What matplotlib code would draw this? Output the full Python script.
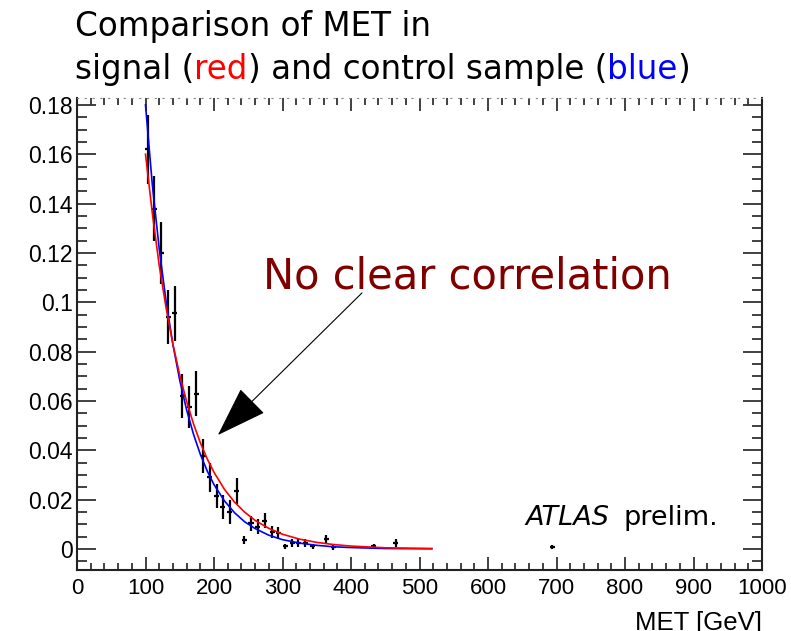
import numpy as np
import matplotlib
matplotlib.use('Agg')
import matplotlib.pyplot as plt
from matplotlib.ticker import MultipleLocator

# ── Data ─────────────────────────────────────────────────────────────────────
met_pts = [103, 113, 123, 133, 143, 154, 164, 174, 184, 194, 204, 213, 223, 233,
           244, 254, 264, 274, 285, 294, 304, 314, 323, 333, 344, 364, 374, 433,
           465, 694]
frac_pts = [0.162, 0.138, 0.120, 0.094, 0.0955, 0.062, 0.0575, 0.063, 0.0377,
            0.029, 0.0215, 0.017, 0.015, 0.0235, 0.0037, 0.0105, 0.009, 0.0115,
            0.0068, 0.0065, 0.0011, 0.0024, 0.0024, 0.0024, 0.0012, 0.004,
            0.0008, 0.0012, 0.0024, 0.0008]
frac_err = [0.014, 0.013, 0.0125, 0.011, 0.011, 0.009, 0.0085, 0.009, 0.0068,
            0.006, 0.005, 0.005, 0.0047, 0.0054, 0.0015, 0.003, 0.003, 0.003,
            0.0025, 0.0025, 0.001, 0.0015, 0.0015, 0.0015, 0.001, 0.0017, 0.001,
            0.001, 0.0015, 0.0008]
met_bin_half = 3.7

# fitted curves (signal = red, control = blue)
met_curve = [100, 110, 120, 130, 140, 150, 160, 170, 180, 190, 200, 215, 230,
             245, 260, 280, 300, 325, 350, 375, 400, 450, 518]
signal_curve = [0.160, 0.136, 0.115, 0.0978, 0.083, 0.0705, 0.0598, 0.0508,
                0.0431, 0.0366, 0.0311, 0.0243, 0.019, 0.0149, 0.0116, 0.0084,
                0.006, 0.004, 0.0027, 0.0018, 0.0012, 0.0005, 0.0002]
control_curve = [0.180, 0.1475, 0.1218, 0.1005, 0.0829, 0.0684, 0.0564, 0.0466,
                 0.0384, 0.0317, 0.0261, 0.0196, 0.0147, 0.011, 0.0083, 0.0056,
                 0.0038, 0.0024, 0.0015, 0.0009, 0.0006, 0.0002, 0.0001]

title_top = 'Comparison of MET in'
title_parts = [('signal (', 'black'), ('red', '#ff0000'),
               (') and control sample (', 'black'), ('blue', '#0000ff'),
               (')', 'black')]

W, H = 791, 631


def fx(x):
    return x / W


def fy(y):
    return 1 - y / H


plt.rcParams['font.family'] = ['Liberation Sans', 'DejaVu Sans']
TXT = ['DejaVu Sans']

fig = plt.figure(figsize=(W / 100, H / 100), dpi=100)
ax = fig.add_axes([fx(77), fy(570), fx(762) - fx(77), fy(98) - fy(570)])

ax.errorbar(met_pts, frac_pts, yerr=frac_err, xerr=met_bin_half, fmt='none',
            ecolor='black', elinewidth=1.6, capsize=0, zorder=2)
ax.plot(met_curve, control_curve, color='#0000ff', lw=1.2, zorder=3)
ax.plot(met_curve, signal_curve, color='#ff0000', lw=1.2, zorder=3)

ax.set_xlim(0, 1000)
ax.set_ylim(-0.0085, 0.1828)
ax.xaxis.set_major_locator(MultipleLocator(100))
ax.xaxis.set_minor_locator(MultipleLocator(20))
ax.yaxis.set_major_locator(MultipleLocator(0.02))
ax.yaxis.set_minor_locator(MultipleLocator(0.005))
ax.yaxis.set_major_formatter(plt.FuncFormatter(lambda v, p: f'{v:g}'))

ax.tick_params(axis='y', which='major', direction='in', length=13.5, width=1.3,
               labelsize=16.5, pad=3, right=True, color='#333333')
ax.tick_params(axis='y', which='minor', direction='in', length=7, width=1.3,
               right=True, color='#333333')
ax.tick_params(axis='x', which='major', direction='in', length=9.5, width=1.3,
               labelsize=16, pad=6, top=True, color='#333333')
ax.tick_params(axis='x', which='minor', direction='in', length=5, width=1.3,
               top=True, color='#333333')
for side in ['left', 'bottom', 'right']:
    ax.spines[side].set_linewidth(1.5)
    ax.spines[side].set_color('#222222')
ax.spines['top'].set_linestyle((0, (1, 6)))
ax.spines['top'].set_color('#888888')

# x-axis title, right aligned and cut by the lower edge like the reference
fig.text(fx(762), fy(630), 'MET [GeV]', fontsize=18.5, ha='right',
         va='baseline')

# two-line title, second line coloured word by word
fig.text(fx(75), fy(36), title_top, fontsize=23.5, va='baseline', family=TXT)
fig.canvas.draw()
renderer = fig.canvas.get_renderer()
x_px = 75
for s, c in title_parts:
    t = fig.text(fx(x_px), fy(79), s, fontsize=23.5, color=c, va='baseline',
                 family=TXT)
    x_px = t.get_window_extent(renderer).x1

ax.text(272, 0.1057, 'No clear correlation', fontsize=30, color='#800000',
        family=TXT, va='baseline', ha='left')
ax.annotate('', xy=(205.7, 0.0462), xytext=(416, 0.1038),
            arrowprops=dict(arrowstyle='-|>,head_length=2.2,head_width=0.75',
                            mutation_scale=15, lw=0.8, color='black',
                            shrinkA=0, shrinkB=0))

ax.text(654.5, 0.0097, 'ATLAS', fontsize=19.5, style='italic', va='baseline',
        family=TXT)
ax.text(797.8, 0.0097, 'prelim.', fontsize=19.5, va='baseline', family=TXT)

fig.savefig('out.png', dpi=100)
